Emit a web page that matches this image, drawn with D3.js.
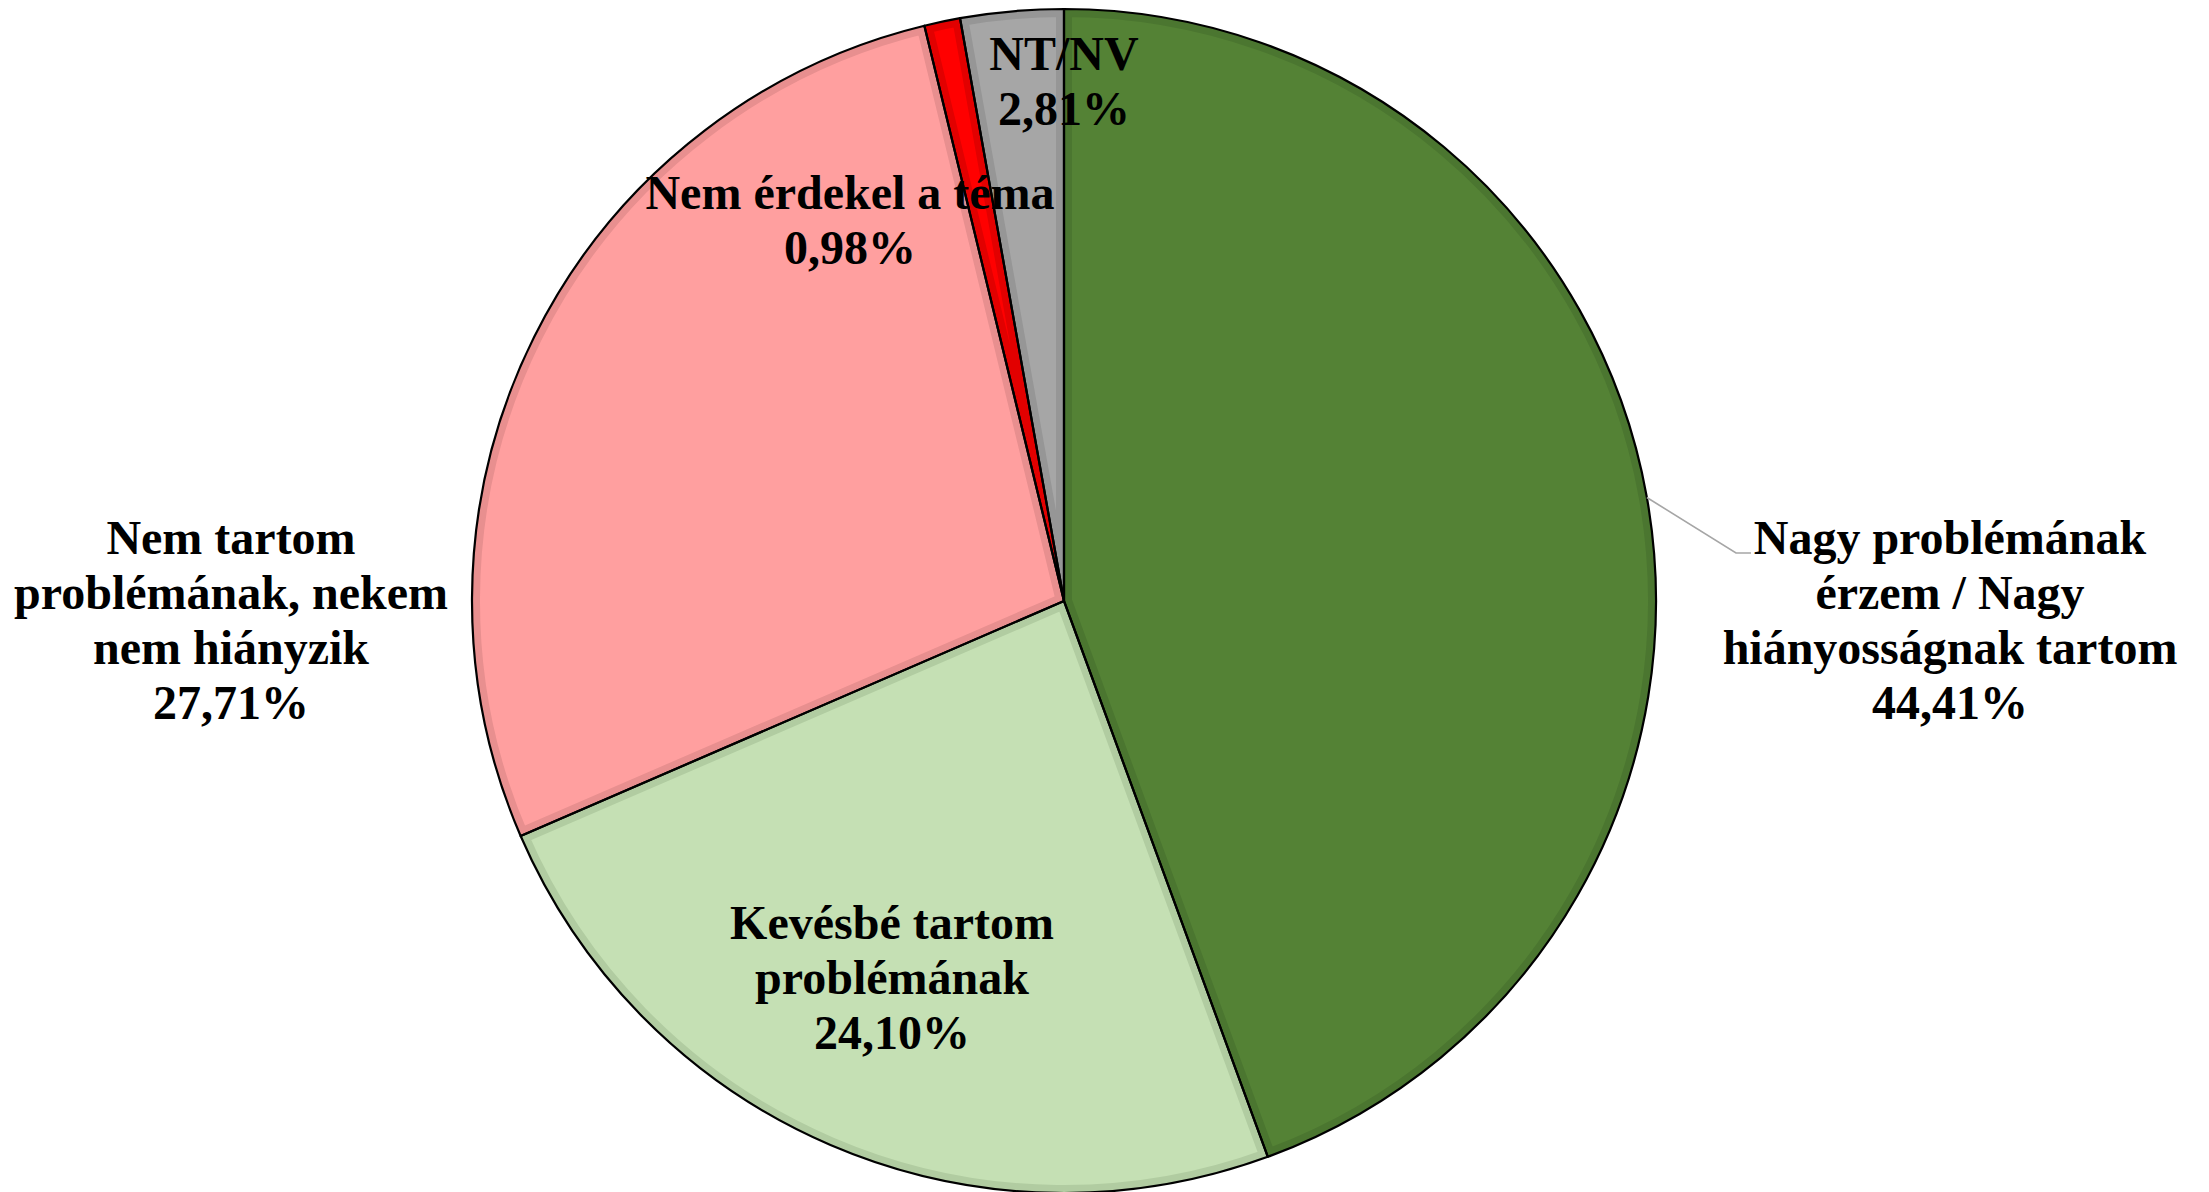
<!DOCTYPE html>
<html><head><meta charset="utf-8">
<script src="https://cdn.jsdelivr.net/npm/d3@7"></script>
<style>html,body{margin:0;padding:0;background:#fff;overflow:hidden}</style>
</head><body>
<svg id="chart" width="2209" height="1192"></svg>
<script>
// ---- data ----
const categories = [
  "Nagy problémának érzem / Nagy hiányosságnak tartom",
  "Kevésbé tartom problémának",
  "Nem tartom problémának, nekem nem hiányzik",
  "Nem érdekel a téma",
  "NT/NV"
];
const values = [44.41, 24.10, 27.71, 0.98, 2.81];
const labelLines = [
  ["Nagy problémának", "érzem / Nagy", "hiányosságnak tartom"],
  ["Kevésbé tartom", "problémának"],
  ["Nem tartom", "problémának, nekem", "nem hiányzik"],
  ["Nem érdekel a téma"],
  ["NT/NV"]
];

// ---- styles / layout ----
const colors     = ["#548235", "#C5E0B4", "#FF9F9F", "#FF0000", "#A6A6A6"];
const edgeColors = ["#4B7630", "#B1CCA1", "#E88F8F", "#E20000", "#969696"];
const labelLayout = [ // offsets of label centre / first baseline from pie centre
  {dx: 886, dy: -47, leader: true},
  {dx: -172, dy: 338},
  {dx: -833, dy: -47},
  {dx: -214, dy: -392},
  {dx: 0, dy: -531}
];
const W = 2209, H = 1192;
const cx = 1064, cy = 601, R = 592;
const fontSize = 48, lineH = 55;

const hu = d3.formatLocale({decimal: ",", thousands: " ", grouping: [3], currency: ["", ""]});
const fmtPct = v => hu.format(".2f")(v) + "%";

const svg = d3.select("#chart");
const g = svg.append("g").attr("transform", `translate(${cx},${cy})`);

const pie = d3.pie().sort(null).value(d => d.value);
const data = pie(categories.map((c, i) => ({cat: c, value: values[i], i})));
const arc = d3.arc().innerRadius(0).outerRadius(R);

const defs = svg.append("defs");
data.forEach((d, i) => {
  defs.append("clipPath").attr("id", "clip" + i)
    .append("path").attr("d", arc(d));
});

// slices with inner darker edge band
g.selectAll("path.slice").data(data).join("path")
  .attr("class", "slice")
  .attr("d", arc)
  .attr("fill", d => colors[d.data.i])
  .attr("stroke", d => edgeColors[d.data.i])
  .attr("stroke-width", 16)
  .attr("stroke-linejoin", "miter")
  .attr("clip-path", d => `url(#clip${d.data.i})`);

// black outlines
g.selectAll("path.outline").data(data).join("path")
  .attr("class", "outline")
  .attr("d", arc)
  .attr("fill", "none")
  .attr("stroke", "#000")
  .attr("stroke-width", 2.2)
  .attr("stroke-linejoin", "round");

// leader line(s)
data.forEach((d, i) => {
  const L = labelLayout[i];
  if (!L.leader) return;
  const mid = (d.startAngle + d.endAngle) / 2;
  const sx = Math.sin(mid) * R, sy = -Math.cos(mid) * R;
  const ex = L.dx - 199, ey = L.dy - 1;
  g.append("polyline")
    .attr("points", `${sx},${sy} ${ex - 15},${ey} ${ex},${ey}`)
    .attr("fill", "none").attr("stroke", "#A6A6A6").attr("stroke-width", 1.6);
});

// labels
data.forEach((d, i) => {
  const L = labelLayout[i];
  const lines = labelLines[i].concat([fmtPct(d.data.value)]);
  const t = g.append("text")
    .attr("x", L.dx).attr("y", L.dy)
    .attr("text-anchor", "middle")
    .attr("font-family", "'Liberation Serif', 'Times New Roman', serif")
    .attr("font-weight", "bold")
    .attr("font-size", fontSize)
    .attr("fill", "#000");
  lines.forEach((ln, k) => {
    t.append("tspan").attr("x", L.dx).attr("y", L.dy + k * lineH).text(ln);
  });
});
</script>
</body></html>
